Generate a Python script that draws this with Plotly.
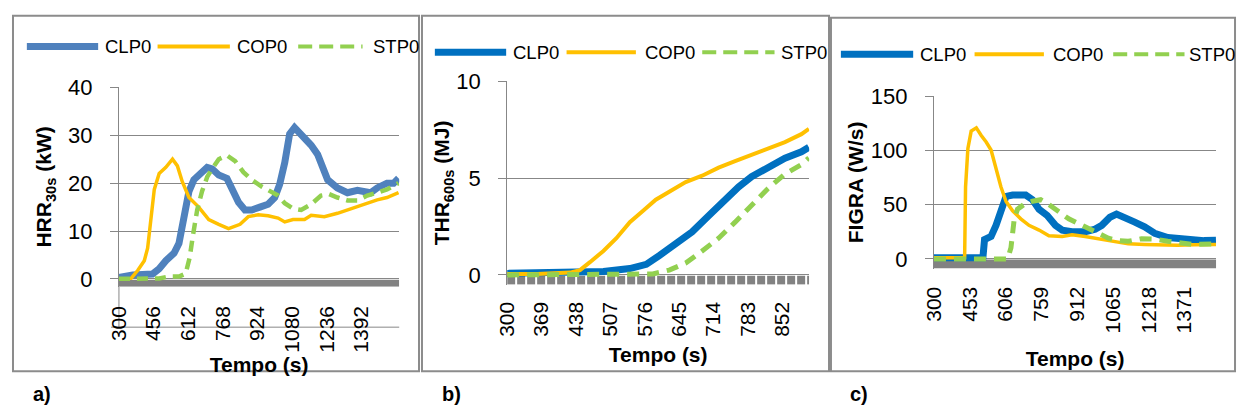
import plotly.graph_objects as go

# The page body keeps its default 8px margin: the figure starts 8px in, so every
# reference pixel position is shifted by that margin, and the figure reaches the
# window's right and bottom edges.
PAGE_W, PAGE_H = 1245, 417
OFF = 8
W, H = PAGE_W - OFF, PAGE_H - OFF

# ---------------- data ----------------
series_names = ["CLP0", "COP0", "STP0"]

# a) HRR30s (kW)
hrr_clp0_t = [300, 362, 451, 481, 511, 548, 570, 593, 615, 637, 667, 697, 719, 749, 786, 808, 838, 867, 897, 934,
              971, 1001, 1023, 1046, 1068, 1090, 1120, 1165, 1194, 1217, 1239, 1283, 1328, 1373, 1432, 1462, 1506, 1536, 1558]
hrr_clp0_v = [0.3, 0.8, 1.0, 2.1, 3.8, 5.4, 7.4, 13.0, 18.3, 20.7, 22.0, 23.3, 23.0, 21.7, 21.0, 18.7, 16.0, 14.4, 14.4, 15.0,
              15.6, 17.0, 19.7, 24.3, 30.3, 31.6, 30.3, 27.9, 26.0, 23.0, 20.7, 19.0, 18.0, 18.5, 18.0, 19.0, 20.0, 20.0, 21.0]
hrr_cop0_t = [300, 355, 385, 414, 429, 444, 459, 481, 511, 541, 563, 585, 615, 659, 704, 749, 793, 845, 882, 927,
              971, 1016, 1046, 1083, 1135, 1165, 1224, 1283, 1343, 1402, 1462, 1506, 1558]
hrr_cop0_v = [0.0, 0.1, 1.8, 3.8, 6.4, 13.0, 18.7, 22.0, 23.3, 25.0, 23.6, 20.3, 17.0, 15.0, 12.4, 11.4, 10.5, 11.4, 13.0, 13.4,
              13.2, 12.7, 11.9, 12.4, 12.4, 13.3, 13.0, 13.7, 14.7, 15.6, 16.5, 17.0, 18.0]
hrr_stp0_t = [300, 362, 422, 481, 526, 570, 600, 618, 633, 652, 674, 697, 719, 749, 786, 823, 860, 897, 942, 986,
              1016, 1046, 1083, 1120, 1165, 1209, 1246, 1283, 1328, 1373, 1417, 1462, 1506, 1558]
hrr_stp0_v = [0.0, 0.0, 0.0, 0.1, 0.5, 0.5, 1.1, 4.4, 9.1, 14.4, 18.3, 21.3, 23.0, 25.0, 25.8, 24.6, 22.3, 20.7, 19.3, 18.3,
              17.4, 15.8, 14.7, 14.4, 15.6, 17.4, 17.7, 17.0, 16.4, 16.4, 17.4, 18.0, 18.7, 20.0]
hrr_ticks = [300, 456, 612, 768, 924, 1080, 1236, 1392]
hrr_yticks = [0, 10, 20, 30, 40]

# b) THR600s (MJ)
thr_clp0_t = [300, 360, 426, 493, 546, 579, 605, 638, 671, 704, 737, 764, 790, 823, 857, 890, 905]
thr_clp0_v = [0.08, 0.1, 0.12, 0.18, 0.33, 0.55, 1.0, 1.57, 2.23, 3.06, 3.9, 4.55, 5.08, 5.55, 6.04, 6.37, 6.6]
thr_cop0_t = [300, 360, 426, 446, 466, 493, 519, 546, 572, 598, 625, 658, 691, 724, 757, 790, 823, 857, 890, 905]
thr_cop0_v = [0.05, 0.05, 0.12, 0.25, 0.66, 1.24, 1.9, 2.73, 3.31, 3.89, 4.3, 4.8, 5.13, 5.55, 5.88, 6.21, 6.54, 6.87, 7.28, 7.55]
thr_stp0_t = [300, 426, 559, 592, 625, 658, 691, 724, 757, 790, 823, 857, 890, 905]
thr_stp0_v = [0.0, 0.0, 0.0, 0.05, 0.25, 0.61, 1.24, 1.9, 2.73, 3.56, 4.47, 5.22, 5.71, 6.05]
thr_ticks = [300, 369, 438, 507, 576, 645, 714, 783, 852]
thr_yticks = [0, 5, 10]

# c) FIGRA (W/s)
figra_clp0_t = [300, 509, 516, 544, 565, 586, 608, 636, 692, 721, 749, 784, 819, 848, 890, 946, 989, 1017, 1052, 1080,
                1116, 1158, 1200, 1243, 1299, 1356, 1412, 1454, 1505]
figra_clp0_v = [1.0, 1.0, 17.8, 20.7, 31.0, 46.0, 57.7, 59.0, 59.0, 54.7, 45.9, 40.0, 31.0, 26.6, 25.1, 25.1, 27.5, 31.0, 38.5, 41.4,
                38.5, 34.0, 29.6, 23.7, 19.8, 18.3, 16.9, 16.9, 17.2]
figra_cop0_t = [300, 431, 435, 445, 459, 481, 502, 523, 544, 565, 586, 608, 636, 671, 706, 749, 791, 848, 890, 946,
                1017, 1073, 1130, 1200, 1271, 1341, 1412, 1505]
figra_cop0_v = [1.0, 1.0, 66.6, 102.0, 118.0, 121.0, 114.0, 108.0, 100.6, 84.0, 66.6, 53.0, 44.4, 37.0, 31.0, 26.6, 21.3, 20.7, 22.2, 20.7,
                17.8, 15.4, 13.9, 13.3, 12.7, 12.7, 13.0, 13.3]
figra_stp0_t = [300, 615, 629, 643, 657, 685, 721, 756, 791, 833, 876, 918, 960, 1003, 1045, 1087, 1130, 1186, 1243, 1299,
                1356, 1412, 1505]
figra_stp0_v = [0.0, 0.0, 10.4, 37.0, 46.0, 50.3, 53.3, 54.7, 50.3, 44.4, 37.0, 32.5, 28.1, 23.7, 19.2, 16.9, 16.3, 18.6, 18.3, 16.3,
                14.8, 13.3, 13.9]
figra_ticks = [300, 453, 606, 759, 912, 1065, 1218, 1371]
figra_yticks = [0, 50, 100, 150]

panel_labels = ["a)", "b)", "c)"]
y_titles = ["HRR<sub>30s</sub> (kW)", "THR<sub>600s</sub> (MJ)", "FIGRA (W/s)"]
x_title = "Tempo (s)"

# ---------------- styling ----------------
YELLOW = "#FFC000"
GREEN = "#92D050"
BLUE_A = "#4F81BD"
BLUE_BC = "#0070C0"
GRID = "#878787"
BORDER = "#8C8C8C"
FONT = "Liberation Sans, Arial, sans-serif"


def fx(p):
    """page pixel x -> paper fraction"""
    return (p - OFF) / W


def fy(p):
    """page pixel y -> paper fraction"""
    return 1 - (p - OFF) / H


fig = go.Figure()

panels = [
    dict(ax="", data=[(hrr_clp0_t, hrr_clp0_v), (hrr_cop0_t, hrr_cop0_v), (hrr_stp0_t, hrr_stp0_v)],
         blue=BLUE_A, widths=[7, 3.5, 4.5], dash="11px,7px",
         xdom=(116, 399), ydom=(86, 294), xr=[300, 1561], yr=[-1.66, 40.1],
         ticks=hrr_ticks, yticks=hrr_yticks, ytitle=y_titles[0],
         xlstand=14, xtstand=4, ytstand=10),
    dict(ax="2", data=[(thr_clp0_t, thr_clp0_v), (thr_cop0_t, thr_cop0_v), (thr_stp0_t, thr_stp0_v)],
         blue=BLUE_BC, widths=[7, 4, 5], dash="12px,8px",
         xdom=(508, 813), ydom=(80, 291.7), xr=[300, 905.6], yr=[-0.5, 10.02],
         ticks=thr_ticks, yticks=thr_yticks, ytitle=y_titles[1],
         xlstand=12, xtstand=11, ytstand=0),
    dict(ax="3", data=[(figra_clp0_t, figra_clp0_v), (figra_cop0_t, figra_cop0_v), (figra_stp0_t, figra_stp0_v)],
         blue=BLUE_BC, widths=[7, 3.5, 5], dash="12px,8px",
         xdom=(939, 1224), ydom=(95.7, 275), xr=[300, 1506], yr=[-8.9, 150.2],
         ticks=figra_ticks, yticks=figra_yticks, ytitle=y_titles[2],
         xlstand=13, xtstand=18, ytstand=1),
]

layout_axes = {}
shapes = []
for p in panels:
    ax = p["ax"]
    colors = [p["blue"], YELLOW, GREEN]
    for i, (t, v) in enumerate(p["data"]):
        fig.add_trace(go.Scatter(
            x=t, y=v, mode="lines", name=series_names[i], showlegend=False,
            line=dict(color=colors[i], width=p["widths"][i], dash=(p["dash"] if i == 2 else "solid")),
            xaxis="x" + ax, yaxis="y" + ax, hoverinfo="skip"))
    layout_axes["xaxis" + ax] = dict(
        domain=[fx(p["xdom"][0]), fx(p["xdom"][1])], anchor="y" + ax, range=p["xr"],
        tickmode="array", tickvals=p["ticks"], ticktext=[str(v) for v in p["ticks"]],
        tickangle=-90, showgrid=False, zeroline=False, showline=False, ticks="",
        tickfont=dict(family=FONT, size=21, color="black"), ticklabelstandoff=p["xlstand"],
        title=dict(text=x_title, font=dict(family=FONT, size=21, color="black", weight="bold"),
                   standoff=p["xtstand"]),
        fixedrange=True)
    layout_axes["yaxis" + ax] = dict(
        domain=[fy(p["ydom"][1]), fy(p["ydom"][0])], anchor="x" + ax, range=p["yr"],
        tickmode="array", tickvals=p["yticks"], ticktext=[str(v) for v in p["yticks"]],
        showgrid=True, gridcolor=GRID, gridwidth=1, zeroline=False,
        showline=True, linecolor=GRID, linewidth=1,
        ticks="outside", ticklen=8, tickcolor=GRID, tickwidth=1,
        tickfont=dict(family=FONT, size=22, color="black"), ticklabelstandoff=13,
        title=dict(text=p["ytitle"], font=dict(family=FONT, size=21, color="black", weight="bold"),
                   standoff=p["ytstand"]),
        fixedrange=True)

# category-axis bands under the zero line
shapes.append(dict(type="rect", xref="x", yref="y", x0=300, x1=1561, y0=-1.66, y1=-0.2,
                   fillcolor="#828282", line=dict(width=0), layer="below"))
shapes.append(dict(type="line", xref="x2", yref="y2", x0=300, x1=905.6, y0=-0.27, y1=-0.27,
                   line=dict(color="#828282", width=9, dash="8px,2px"), layer="below"))
shapes.append(dict(type="rect", xref="x3", yref="y3", x0=300, x1=1506, y0=-8.9, y1=-0.6,
                   fillcolor="#828282", line=dict(width=0), layer="below"))
# extra gridline (-10) and axis extension in panel a
shapes.append(dict(type="line", xref="paper", yref="paper", x0=fx(108), x1=fx(399), y0=fy(336), y1=fy(336),
                   line=dict(color=GRID, width=1), layer="below"))
shapes.append(dict(type="line", xref="paper", yref="paper", x0=fx(116), x1=fx(116), y0=fy(294), y1=fy(336),
                   line=dict(color=GRID, width=1), layer="below"))

# panel borders
for (x0, x1, y0, y1) in [(9, 419, 12, 382), (422, 833, 12, 382), (835, 1243, 14, 382)]:
    shapes.append(dict(type="rect", xref="paper", yref="paper", x0=fx(x0), x1=fx(x1), y0=fy(y1), y1=fy(y0),
                       line=dict(color=BORDER, width=2), fillcolor="rgba(0,0,0,0)", layer="below"))

# legends (drawn per panel)
legend_specs = [
    (44, BLUE_A, [(23, 95, 100), (155, 228, 233), (297, 362, 371)], [7, 4, 4], "14px,7px"),
    (50, BLUE_BC, [(435, 507, 512), (568, 638, 645), (705, 778, 783)], [7, 4, 4], "14px,7px"),
    (52, BLUE_BC, [(845, 918, 923), (980, 1050, 1057), (1120, 1192, 1195)], [7, 4, 4], "14px,7px"),
]
annotations = []
for (ly, blue, items, widths, dash) in legend_specs:
    colors = [blue, YELLOW, GREEN]
    for i, (a, b, tx) in enumerate(items):
        shapes.append(dict(type="line", xref="paper", yref="paper", x0=fx(a), x1=fx(b), y0=fy(ly), y1=fy(ly),
                           line=dict(color=colors[i], width=widths[i], dash=(dash if i == 2 else "solid"))))
        annotations.append(dict(text=series_names[i], xref="paper", yref="paper", x=fx(tx), y=fy(ly),
                                xanchor="left", yanchor="middle", showarrow=False,
                                font=dict(family=FONT, size=18.5, color="black")))

for lbl, lx in zip(panel_labels, [27, 440, 852]):
    annotations.append(dict(text=lbl, xref="paper", yref="paper", x=fx(lx), y=fy(406),
                            xanchor="left", yanchor="middle", showarrow=False,
                            font=dict(family=FONT, size=20, color="black", weight="bold")))

fig.update_layout(
    width=W, height=H, margin=dict(l=0, r=0, t=0, b=0),
    paper_bgcolor="white", plot_bgcolor="white",
    showlegend=False, shapes=shapes, annotations=annotations,
    font=dict(family=FONT, color="black"),
    **layout_axes)

fig.write_html("out.html", config={"displayModeBar": False})
